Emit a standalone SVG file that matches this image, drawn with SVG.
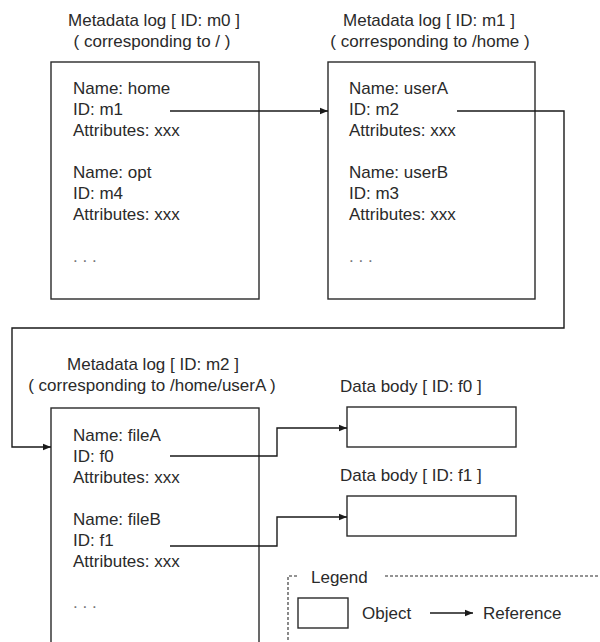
<svg xmlns="http://www.w3.org/2000/svg" width="600" height="642" viewBox="0 0 600 642">
<defs>
<style>
text{font-family:"Liberation Sans",Arial,sans-serif;font-size:17px;fill:#2a2a2a}
.t{text-anchor:middle}
.dots{fill:#777}
.box{fill:#fff;stroke:#2a2a2a;stroke-width:1.4}
.ln{fill:none;stroke:#1a1a1a;stroke-width:1.4}
.dash{fill:none;stroke:#2a2a2a;stroke-width:1.1;stroke-dasharray:3 2}
</style>
<marker id="ah" viewBox="0 0 10 10" refX="10" refY="5" markerWidth="8" markerHeight="8" markerUnits="userSpaceOnUse" orient="auto">
<path d="M0,1 L10,5 L0,9 Z" fill="#1a1a1a"/>
</marker>
</defs>
<rect width="600" height="642" fill="#fff"/>

<g id="m0">
<text class="t" x="154" y="26">Metadata log [ ID: m0 ]</text>
<text class="t" x="152" y="47">( corresponding to / )</text>
<rect class="box" x="51" y="62" width="208" height="237"/>
<text x="73" y="94">Name: home</text>
<text x="73" y="115">ID: m1</text>
<text x="73" y="136">Attributes: xxx</text>
<text x="73" y="178">Name: opt</text>
<text x="73" y="199">ID: m4</text>
<text x="73" y="220">Attributes: xxx</text>
<text class="dots" x="73" y="262">. . .</text>
</g>

<g id="m1">
<text class="t" x="429" y="26">Metadata log [ ID: m1 ]</text>
<text class="t" x="430" y="47">( corresponding to /home )</text>
<rect class="box" x="328" y="62" width="207" height="237"/>
<text x="349" y="94">Name: userA</text>
<text x="349" y="115">ID: m2</text>
<text x="349" y="136">Attributes: xxx</text>
<text x="349" y="178">Name: userB</text>
<text x="349" y="199">ID: m3</text>
<text x="349" y="220">Attributes: xxx</text>
<text class="dots" x="349" y="262">. . .</text>
</g>

<g id="m2">
<text class="t" x="153" y="370">Metadata log [ ID: m2 ]</text>
<text class="t" x="152" y="391">( corresponding to /home/userA )</text>
<rect class="box" x="51" y="408" width="208" height="260"/>
<text x="73" y="441">Name: fileA</text>
<text x="73" y="462">ID: f0</text>
<text x="73" y="483">Attributes: xxx</text>
<text x="73" y="525">Name: fileB</text>
<text x="73" y="546">ID: f1</text>
<text x="73" y="567">Attributes: xxx</text>
<text class="dots" x="73" y="608">. . .</text>
</g>

<g id="f0">
<text x="340" y="392">Data body [ ID: f0 ]</text>
<rect class="box" x="347" y="407" width="169" height="40"/>
</g>

<g id="f1">
<text x="340" y="481">Data body [ ID: f1 ]</text>
<rect class="box" x="347" y="496" width="169" height="40"/>
</g>

<g id="legend">
<path class="dash" d="M297,576 H288 V650"/>
<path class="dash" d="M385,576 H600"/>
<text x="311" y="583">Legend</text>
<rect class="box" x="298" y="598" width="50" height="30"/>
<text x="362" y="619">Object</text>
<line class="ln" x1="430" y1="613" x2="473" y2="613" marker-end="url(#ah)"/>
<text x="483" y="619">Reference</text>
</g>

<g id="connectors">
<path class="ln" d="M170,111 H328" marker-end="url(#ah)"/>
<path class="ln" d="M457,111 H564 V328 H12 V447 H51" marker-end="url(#ah)"/>
<path class="ln" d="M170,456 H277 V428 H347" marker-end="url(#ah)"/>
<path class="ln" d="M170,546 H277 V517 H347" marker-end="url(#ah)"/>
</g>
</svg>
